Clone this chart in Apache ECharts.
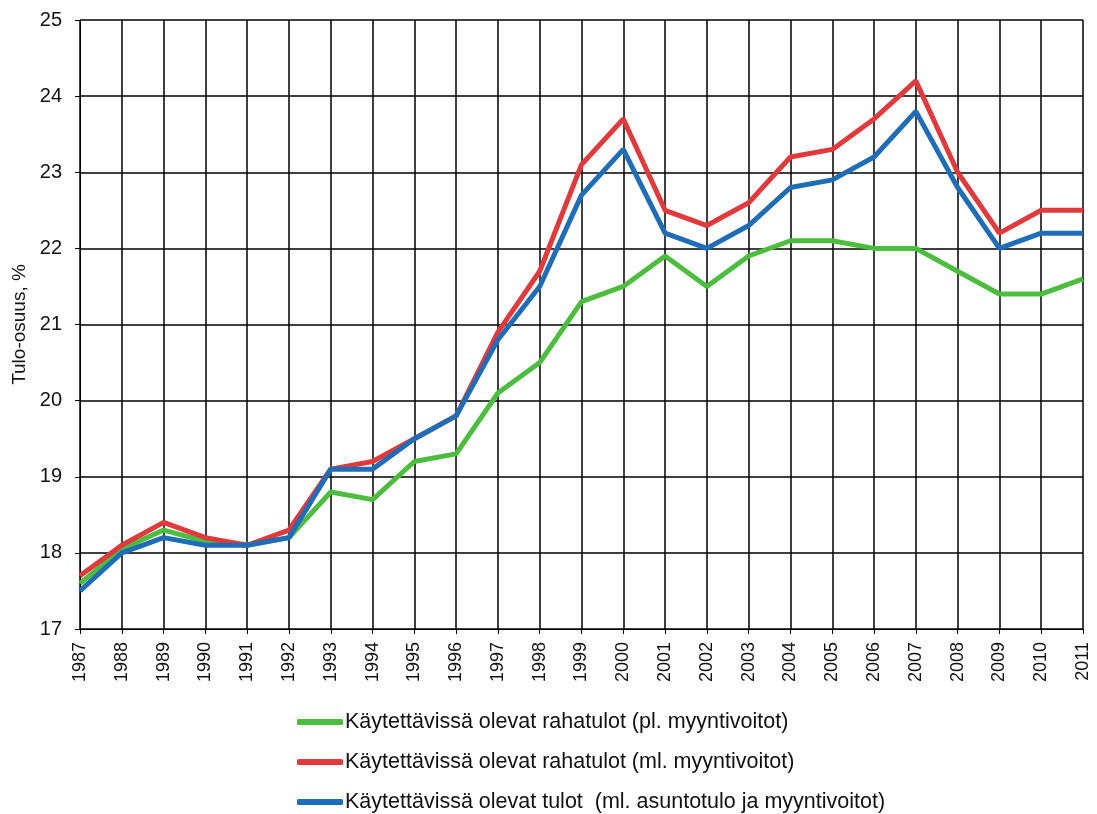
<!DOCTYPE html>
<html>
<head>
<meta charset="utf-8">
<script src="https://cdn.jsdelivr.net/npm/echarts@6/dist/echarts.min.js"></script>
<style>
  html, body { margin: 0; padding: 0; background: #fff; }
  #main { width: 1097px; height: 814px; }
</style>
</head>
<body>
<div id="main"></div>
<script>
// vuodet
var years = ['1987', '1988', '1989', '1990', '1991', '1992', '1993', '1994', '1995', '1996',
  '1997', '1998', '1999', '2000', '2001', '2002', '2003', '2004', '2005', '2006',
  '2007', '2008', '2009', '2010', '2011'];

var names = [
  'Käytettävissä olevat rahatulot (pl. myyntivoitot)',
  'Käytettävissä olevat rahatulot (ml. myyntivoitot)',
  'Käytettävissä olevat tulot  (ml. asuntotulo ja myyntivoitot)'
];

var rahatulotPl = [17.6, 18.05, 18.3, 18.15, 18.1, 18.2, 18.8, 18.7, 19.2, 19.3,
  20.1, 20.5, 21.3, 21.5, 21.9, 21.5, 21.9, 22.1, 22.1, 22.0,
  22.0, 21.7, 21.4, 21.4, 21.6];
var rahatulotMl = [17.7, 18.1, 18.4, 18.2, 18.1, 18.3, 19.1, 19.2, 19.5, 19.8,
  20.9, 21.7, 23.1, 23.7, 22.5, 22.3, 22.6, 23.2, 23.3, 23.7,
  24.2, 23.0, 22.2, 22.5, 22.5];
var tulotMl = [17.5, 18.0, 18.2, 18.1, 18.1, 18.2, 19.1, 19.1, 19.5, 19.8,
  20.8, 21.5, 22.7, 23.3, 22.2, 22.0, 22.3, 22.8, 22.9, 23.2,
  23.8, 22.8, 22.0, 22.2, 22.2];

var colors = ['#4dbd3f', '#e03a3c', '#1f6db7'];

var chart = echarts.init(document.getElementById('main'));

function makeSeries(name, data, color) {
    return {
        name: name,
        type: 'line',
        data: data,
        symbol: 'none',
        smooth: false,
        lineStyle: {width: 5, color: color},
        itemStyle: {color: color}
    };
}

var option = {
    animation: false,
    backgroundColor: '#fff',
    textStyle: {fontFamily: 'Liberation Sans, Arial, sans-serif'},
    grid: {left: 80, right: 14, top: 20, bottom: 185, containLabel: false},
    legend: {
        orient: 'vertical',
        left: 297,
        top: 711,
        height: 130,
        width: 700,
        padding: 0,
        itemGap: 18,
        itemWidth: 46,
        itemHeight: 6,
        icon: 'roundRect',
        textStyle: {fontSize: 21.5, color: '#111', padding: [0, 0, 0, -3]},
        data: names
    },
    xAxis: {
        type: 'category',
        data: years,
        boundaryGap: false,
        axisLine: {lineStyle: {color: '#000', width: 1}},
        axisTick: {show: true, length: 5, lineStyle: {color: '#000'}},
        axisLabel: {rotate: 90, color: '#111', fontSize: 18, margin: 13, interval: 0},
        splitLine: {show: true, lineStyle: {color: '#000', width: 1.5}}
    },
    yAxis: {
        type: 'value',
        min: 17,
        max: 25,
        interval: 1,
        name: 'Tulo-osuus, %',
        nameLocation: 'middle',
        nameGap: 48,
        nameRotate: 90,
        nameTextStyle: {fontSize: 19, color: '#111'},
        axisLine: {show: true, lineStyle: {color: '#000', width: 1}},
        axisTick: {show: true, length: 5, lineStyle: {color: '#000'}},
        axisLabel: {color: '#111', fontSize: 20, margin: 18},
        splitLine: {show: true, lineStyle: {color: '#000', width: 1.5}}
    },
    series: [
        makeSeries(names[0], rahatulotPl, colors[0]),
        makeSeries(names[1], rahatulotMl, colors[1]),
        makeSeries(names[2], tulotMl, colors[2])
    ]
};

chart.setOption(option);
</script>
</body>
</html>
